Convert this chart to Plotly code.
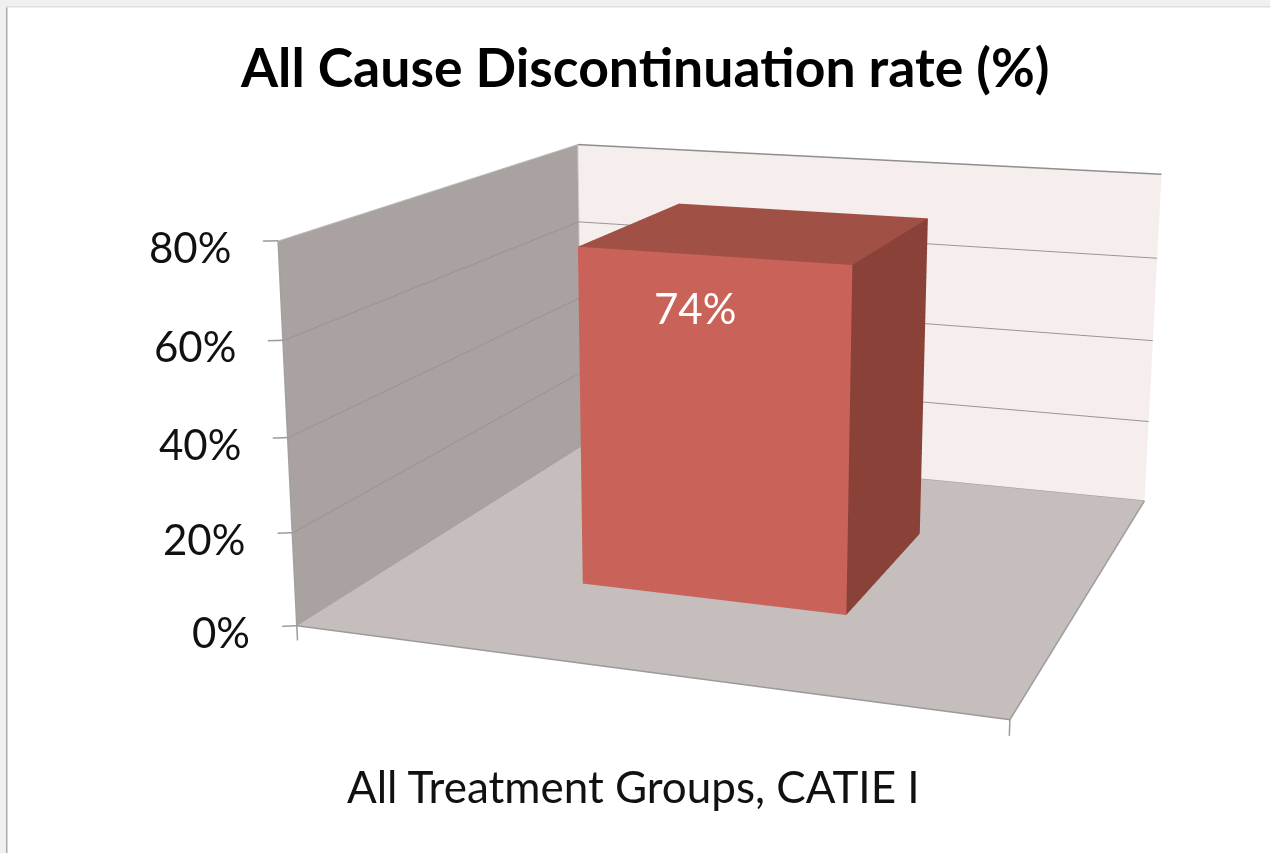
import numpy as np
import plotly.graph_objects as go

W, H = 1270, 853

# Chart content
VALUES = [74]
TICKS = [0, 20, 40, 60, 80]
TICK_LABELS = ["0%", "20%", "40%", "60%", "80%"]
CATEGORY = "All Treatment Groups, CATIE I"
TITLE = "All Cause Discontinuation rate (%)"

# Bar footprint on the unit floor
BAR_X = [0.30, 0.70]
BAR_Y = [0.30, 0.70]

# Viewing parameters: rotation, translation, floor depth, wall height, focal length, optical centre
ROT = np.array([[0.941133, 0.338035, 0.001344],
                [0.087916, -0.240927, -0.966553],
                [-0.326405, 0.909773, -0.256463]])
TRANS = np.array([-0.576, 0.26997, 3.12962])
DEPTH, HEIGHT = 1.00461, 0.53746
FOCAL, OPT_X, OPT_Y = 2268.93, 714.38, 430.01

# The scene camera has a fixed 45 degree field of view, so the long lens is
# expressed as a linear map of the chart box into scene coordinates.
scene_focal = (H / 2) / np.tan(np.pi / 8)
LENS = np.array([[FOCAL / scene_focal, 0, (OPT_X - W / 2) / scene_focal],
                 [0, FOCAL / scene_focal, (OPT_Y - H / 2) / scene_focal],
                 [0, 0, 1.0]])
LINEAR = ROT.T @ LENS @ ROT @ np.diag([1, DEPTH, HEIGHT / TICKS[-1]])
cam_mid = LENS @ (ROT @ np.array([0.5, 0.5 * DEPTH, 0.5 * HEIGHT]) + TRANS)
OFFSET = ROT.T @ (LENS @ TRANS - cam_mid)
EYE = -ROT.T @ cam_mid


def place(x, y, z):
    return LINEAR @ np.array([x, y, z], float) + OFFSET


def quad(corners, color):
    s = np.array([place(*c) for c in corners])
    return go.Mesh3d(x=s[:, 0], y=s[:, 1], z=s[:, 2], i=[0, 0], j=[1, 2], k=[2, 3],
                     color=color, flatshading=True,
                     lighting=dict(ambient=1, diffuse=0, specular=0, roughness=1, fresnel=0),
                     hoverinfo="skip", showscale=False)


def line(points, color, width=2):
    s = np.array([place(*p) for p in points])
    return go.Scatter3d(x=s[:, 0], y=s[:, 1], z=s[:, 2], mode="lines",
                        line=dict(color=color, width=width),
                        hoverinfo="skip", showlegend=False)


x0, x1 = BAR_X
y0, y1 = BAR_Y
top = VALUES[0]
zmax = TICKS[-1]
eps = 0.001

traces = [
    quad([(0, 0, 0), (1, 0, 0), (1, 1, 0), (0, 1, 0)], "#C5BEBC"),       # floor
    quad([(0, 0, 0), (0, 1, 0), (0, 1, zmax), (0, 0, zmax)], "#A9A2A0"), # side wall
    quad([(0, 1, 0), (1, 1, 0), (1, 1, zmax), (0, 1, zmax)], "#F6EDED"), # back wall
    quad([(x0, y0, 0), (x1, y0, 0), (x1, y0, top), (x0, y0, top)], "#C9635A"),
    quad([(x1, y0, 0), (x1, y1, 0), (x1, y1, top), (x1, y0, top)], "#8A4238"),
    quad([(x0, y0, top), (x1, y0, top), (x1, y1, top), (x0, y1, top)], "#A05045"),
]

# Gridlines wrap around the two walls
for z in TICKS[1:-1]:
    traces.append(line([(eps, 0, z), (eps, 1 - eps, z), (1, 1 - eps, z)], "#969696"))
traces.append(line([(eps, 0, zmax), (eps, 1 - eps, zmax)], "#BDBDBD"))
traces.append(line([(eps, 1 - eps, zmax), (1, 1 - eps, zmax)], "#8E8E8E", 3))

# Floor outline, vertical axis and corner edge
traces.append(line([(0, 0, 0), (1, 0, 0), (1, 1 - eps, eps)], "#9A9A9A", 3))
traces.append(line([(1, 1 - eps, eps), (eps, 1 - eps, eps), (0, 0, 0)], "#9A9A9A"))
traces.append(line([(0, 0, 0), (0, 0, zmax)], "#A0A0A0", 3))
traces.append(line([(eps, 1 - eps, 0), (eps, 1 - eps, zmax)], "#D0CCCC"))

# Tick marks
for z in TICKS:
    traces.append(line([(0, 0, z), (-0.0175, -0.009, z)], "#9A9A9A", 3))
traces.append(line([(0, 0, 0), (0, 0, -3.2)], "#9A9A9A", 3))
traces.append(line([(1, 0, 0), (1, 0, -3.2)], "#9A9A9A", 3))

fig = go.Figure(traces)

FONT = "Lato"
INK = "#111111"
scene_notes = []
for z, label in zip(TICKS, TICK_LABELS):
    q = place(0, 0, z)
    scene_notes.append(dict(x=q[0], y=q[1], z=q[2], text=label, showarrow=False,
                            xanchor="right", yanchor="middle", xshift=-45, yshift=-6,
                            font=dict(family=FONT, size=42, color=INK)))
q = place((x0 + x1) / 2, y0, top - 11.5)
scene_notes.append(dict(x=q[0], y=q[1], z=q[2], text=f"{top}%", showarrow=False,
                        xanchor="center", yanchor="middle", xshift=-17, yshift=3,
                        font=dict(family=FONT, size=42, color="#FFFFFF")))

hidden = dict(visible=False, range=[-3, 3])
fig.update_layout(
    width=W, height=H, margin=dict(l=0, r=0, t=0, b=0),
    paper_bgcolor="white", showlegend=False,
    scene=dict(
        domain=dict(x=[0, 1], y=[0, 1]),
        xaxis=hidden, yaxis=hidden, zaxis=hidden,
        aspectmode="manual", aspectratio=dict(x=6, y=6, z=6),
        annotations=scene_notes,
        camera=dict(eye=dict(zip("xyz", EYE.tolist())),
                    center=dict(zip("xyz", (EYE + ROT[2]).tolist())),
                    up=dict(zip("xyz", (-ROT[1]).tolist()))),
    ),
    annotations=[
        dict(x=644 / W, y=1 - 66 / H, xref="paper", yref="paper", yanchor="middle",
             text=f"<b>{TITLE}</b>", showarrow=False,
             font=dict(family=FONT, size=53.5, color="#000000")),
        dict(x=633.5 / W, y=1 - 786 / H, xref="paper", yref="paper", yanchor="middle",
             text=CATEGORY, showarrow=False,
             font=dict(family=FONT, size=44, color=INK)),
    ],
    shapes=[
        dict(type="rect", xref="paper", yref="paper", x0=0, x1=6 / W, y0=0, y1=1,
             fillcolor="#F0F0F0", line_width=0),
        dict(type="rect", xref="paper", yref="paper", x0=0, x1=1, y0=1 - 6 / H, y1=1,
             fillcolor="#F0F0F0", line_width=0),
        dict(type="rect", xref="paper", yref="paper", x0=6 / W, x1=7.5 / W, y0=0, y1=1 - 6 / H,
             fillcolor="#ABABAB", line_width=0),
        dict(type="rect", xref="paper", yref="paper", x0=6 / W, x1=1, y0=1 - 7.5 / H, y1=1 - 6 / H,
             fillcolor="#DEDEDE", line_width=0),
    ],
)
fig.write_html("out.html", config=dict(displayModeBar=False))
